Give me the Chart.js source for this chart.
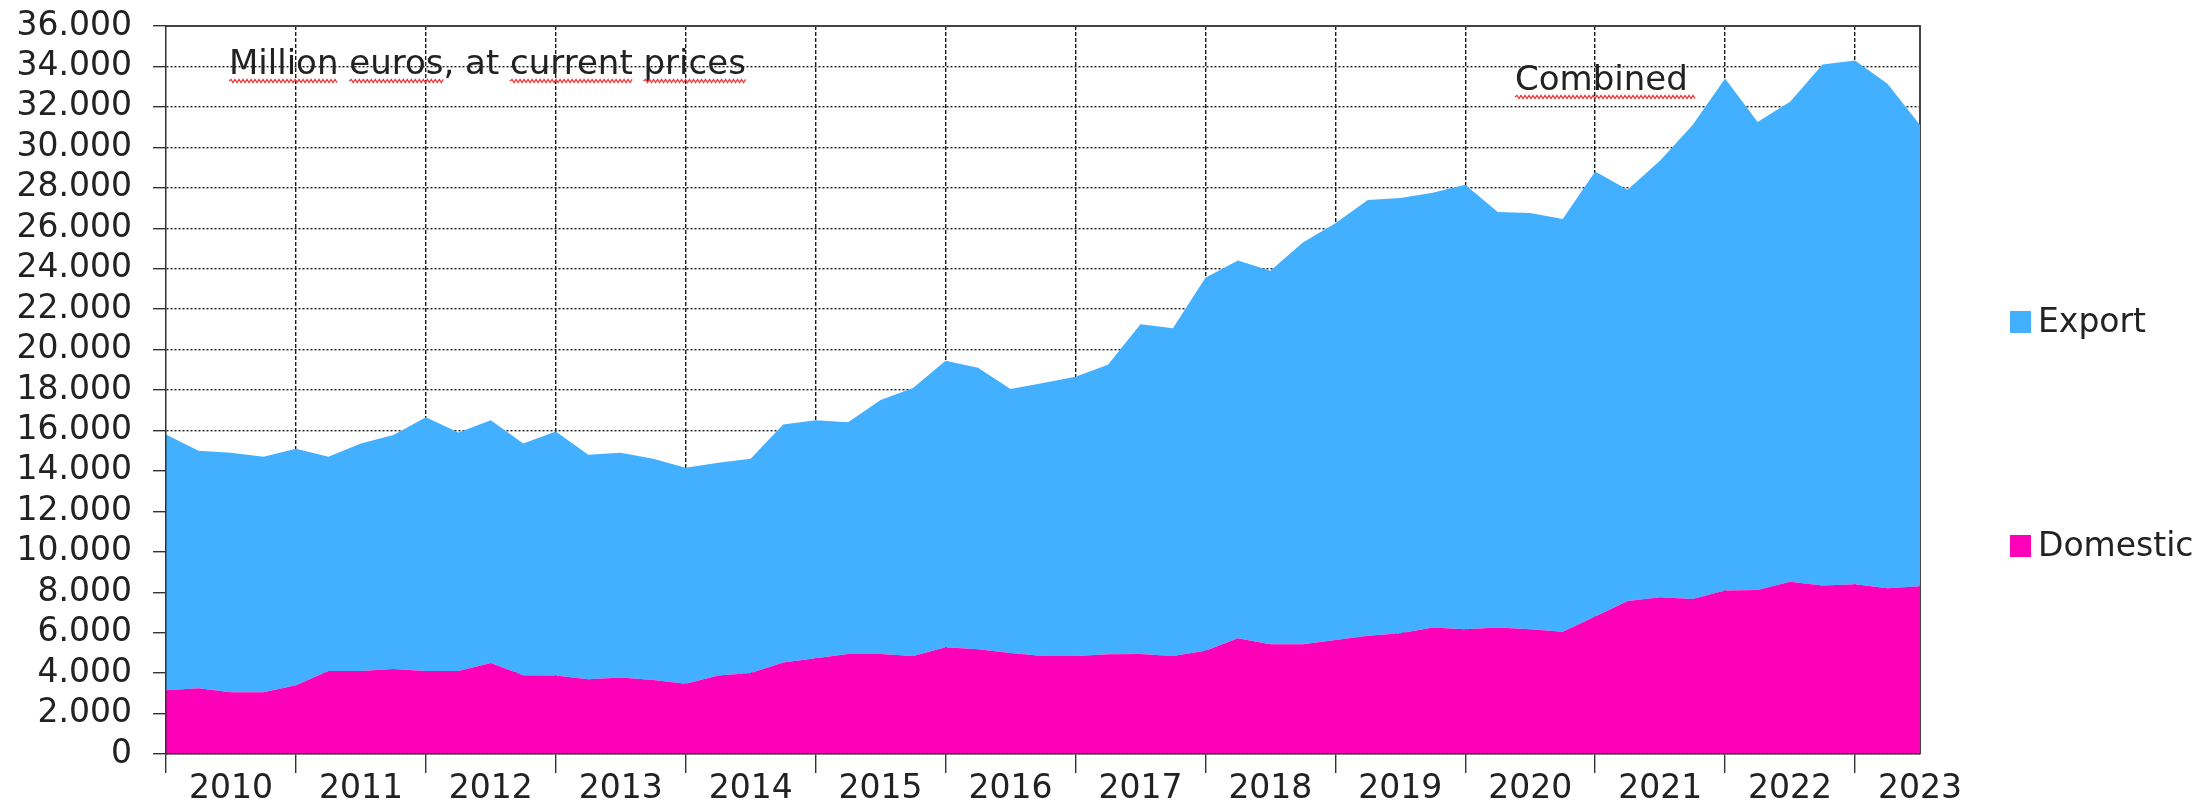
<!DOCTYPE html>
<html>
<head>
<meta charset="utf-8">
<title>Million euros, at current prices</title>
<script src="https://cdn.jsdelivr.net/npm/chart.js@4.4.1/dist/chart.umd.min.js"></script>
<style>
  html, body { margin: 0; padding: 0; background: #fff; }
  #wrap { width: 2203px; height: 806px; }
</style>
</head>
<body>
<div id="wrap"><canvas id="chart"></canvas></div>
<script>
// quarterly values, 2010 Q1 .. 2023 Q3
const years = [2010, 2011, 2012, 2013, 2014, 2015, 2016, 2017, 2018, 2019, 2020, 2021, 2022, 2023];
const quarters = ["Q1", "Q2", "Q3", "Q4"];

const domestic = [
  3150, 3250, 3050, 3050, 3400, 4100, 4100, 4200, 4100, 4100, 4500, 3900, 3880, 3700,
  3780, 3660, 3470, 3880, 4000, 4530, 4730, 4950, 4950, 4850, 5280, 5180, 5000, 4850,
  4850, 4930, 4950, 4850, 5100, 5720, 5430, 5430, 5640, 5850, 5970, 6260, 6170, 6250,
  6170, 6050, 6800, 7570, 7750, 7670, 8080, 8110, 8520, 8330, 8400, 8200, 8300
];

const exportValues = [
  12650, 11750, 11850, 11650, 11700, 10600, 11250, 11580, 12550, 11800, 12000, 11450, 12070, 11100,
  11120, 10940, 10680, 10520, 10600, 11770, 11770, 11450, 12550, 13250, 14170, 13920, 13050, 13500,
  13800, 14320, 16300, 16200, 18450, 18680, 18470, 19870, 20610, 21550, 21530, 21490, 21980, 20550,
  20580, 20400, 22000, 20330, 21600, 23430, 25320, 23140, 23730, 25770, 25900, 24950, 22800
];

const yMax = 36000;
const yStep = 2000;
const noteText = "Million euros, at current prices";
const seriesText = "Combined";

const labels = years.flatMap((y) => quarters.map((q) => y + " " + q)).slice(0, domestic.length);

const textColor = "#222";
const lineColor = "#333";
const gridColor = "#1c1c1c";
const fontFamily = "'DejaVu Sans', Verdana, sans-serif";

Chart.defaults.font.family = fontFamily;
Chart.defaults.color = textColor;

const formatThousands = (v) => String(v).replace(/\B(?=(\d{3})+(?!\d))/g, ".");

// red spell-check squiggle under a word
function squiggle(ctx, x0, x1, y) {
  ctx.save();
  ctx.strokeStyle = "#f03838";
  ctx.lineWidth = 1.3;
  ctx.beginPath();
  let up = true;
  ctx.moveTo(x0, y);
  for (let x = x0 + 2; x <= x1; x += 2) {
    ctx.lineTo(x, up ? y - 1.6 : y + 1.6);
    up = !up;
  }
  ctx.stroke();
  ctx.restore();
}

const framePlugin = {
  id: "frame",
  beforeDatasetsDraw(chart) {
    const { ctx, chartArea: a } = chart;
    ctx.save();
    ctx.strokeStyle = "#444";
    ctx.lineWidth = 2;
    ctx.beginPath();
    ctx.moveTo(a.left, a.top);
    ctx.lineTo(a.right, a.top);
    ctx.lineTo(a.right, a.bottom);
    ctx.stroke();
    ctx.restore();
  },
};

const notesPlugin = {
  id: "notes",
  afterDatasetsDraw(chart) {
    const { ctx, chartArea: a } = chart;
    ctx.save();
    ctx.font = "34px " + fontFamily;
    ctx.fillStyle = textColor;
    ctx.textBaseline = "alphabetic";
    ctx.textAlign = "left";

    const nx = a.left + 63;
    const ny = a.top + 48;
    ctx.fillText(noteText, nx, ny);
    // squiggles under every word but "at"
    let pos = 0;
    noteText.split(" ").forEach((word) => {
      const start = noteText.indexOf(word, pos);
      pos = start + word.length;
      if (word === "at") return;
      const clean = word.replace(/[,.]/g, "");
      const x0 = nx + ctx.measureText(noteText.slice(0, start)).width;
      const x1 = x0 + ctx.measureText(clean).width;
      squiggle(ctx, x0, x1, ny + 7);
    });

    const cx = a.left + 1349;
    const cy = a.top + 64;
    ctx.fillText(seriesText, cx, cy);
    squiggle(ctx, cx, cx + ctx.measureText(seriesText).width + 8, cy + 7);
    ctx.restore();
  },
};

const legendPlugin = {
  id: "sideLegend",
  afterDraw(chart) {
    const { ctx, chartArea: a } = chart;
    const rows = [
      { ds: chart.data.datasets[1], y: 322 },
      { ds: chart.data.datasets[0], y: 546 },
    ];
    ctx.save();
    ctx.font = "33px " + fontFamily;
    ctx.textBaseline = "middle";
    ctx.textAlign = "left";
    rows.forEach((r) => {
      ctx.fillStyle = r.ds.backgroundColor;
      ctx.fillRect(a.right + 90, r.y - 11, 21, 22);
      ctx.fillStyle = textColor;
      ctx.fillText(r.ds.label, a.right + 118, r.y + 1);
    });
    ctx.restore();
  },
};

new Chart(document.getElementById("chart"), {
  type: "line",
  data: {
    labels: labels,
    datasets: [
      {
        label: "Domestic",
        data: domestic,
        backgroundColor: "#ff00b9",
        borderWidth: 0,
        pointRadius: 0,
        fill: "origin",
        tension: 0,
      },
      {
        label: "Export",
        data: exportValues,
        backgroundColor: "#42b0ff",
        borderWidth: 0,
        pointRadius: 0,
        fill: "-1",
        tension: 0,
      },
    ],
  },
  options: {
    responsive: true,
    maintainAspectRatio: false,
    animation: false,
    layout: { padding: { top: 26, right: 283, left: 0, bottom: 0 } },
    plugins: {
      legend: { display: false },
      tooltip: { enabled: false },
    },
    scales: {
      x: {
        offset: false,
        afterFit: (scale) => { scale.height = 52; },
        grid: {
          color: (c) => (c.index % 4 === 0 && c.index > 0 ? gridColor : "transparent"),
          tickColor: (c) => (c.index % 4 === 0 ? lineColor : "transparent"),
          tickLength: 19,
          lineWidth: 1.4,
        },
        border: { display: true, color: lineColor, width: 1.5, dash: [4, 2], z: 1 },
        ticks: {
          autoSkip: false,
          maxRotation: 0,
          padding: -3,
          font: { size: 33 },
          color: textColor,
          callback: (v, i) => (i % 4 === 2 ? String(years[Math.floor(i / 4)]) : ""),
        },
      },
      y: {
        stacked: true,
        min: 0,
        max: yMax,
        afterFit: (scale) => {
          scale.width = 166;
          scale.paddingTop = 20;
          scale.paddingBottom = 20;
        },
        grid: {
          color: gridColor,
          tickColor: lineColor,
          tickLength: 13,
          lineWidth: 1.4,
        },
        border: { display: true, color: lineColor, width: 1.5, dash: [2, 2], z: 1 },
        ticks: {
          autoSkip: false,
          stepSize: yStep,
          padding: 21,
          font: { size: 33 },
          color: textColor,
          callback: (v) => formatThousands(v),
        },
      },
    },
  },
  plugins: [framePlugin, notesPlugin, legendPlugin],
});
</script>
</body>
</html>
